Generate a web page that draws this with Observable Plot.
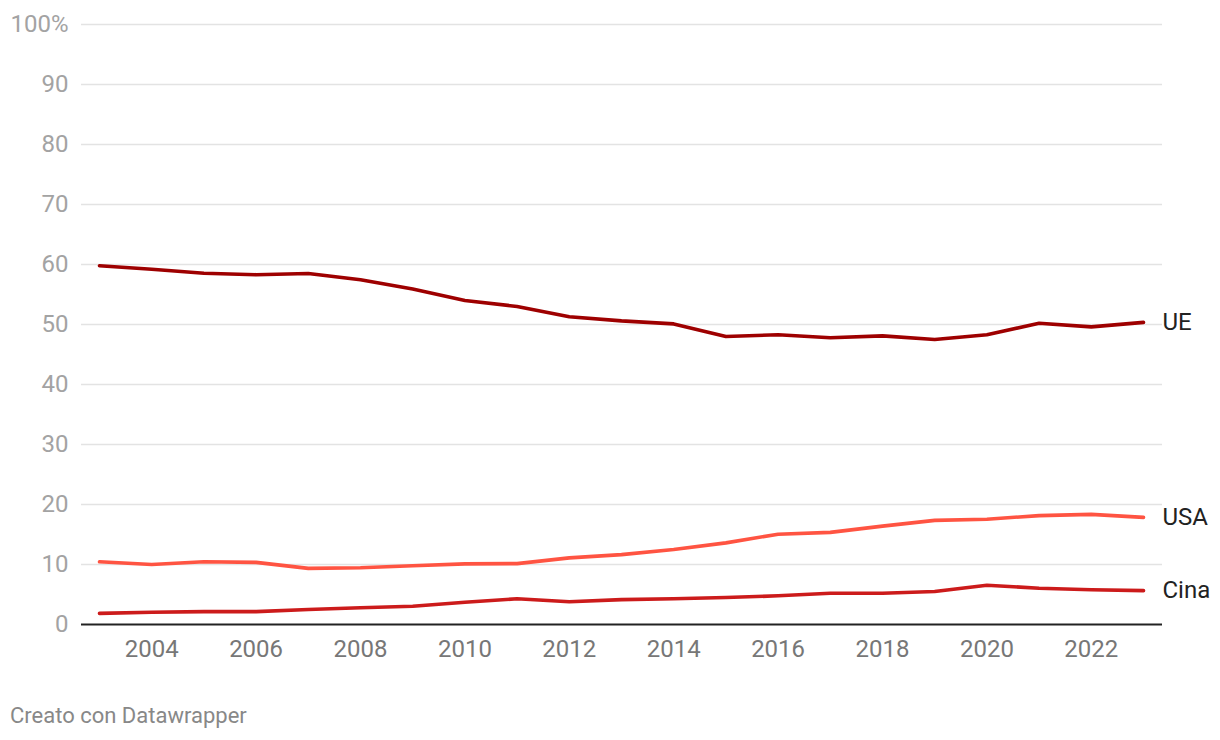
<!DOCTYPE html>
<html>
<head>
<meta charset="utf-8">
<script src="https://cdn.jsdelivr.net/npm/d3@7"></script>
<script src="https://cdn.jsdelivr.net/npm/@observablehq/plot@0.6"></script>
<style>
  html, body { margin: 0; padding: 0; background: #fff; }
  body { width: 1220px; height: 740px; font-family: Roboto, "Noto Sans", sans-serif; position: relative; }
  #chart { position: absolute; left: 0; top: 0; }
  #caption { position: absolute; left: 10px; top: 702px; font-size: 22px; line-height: 28px; color: #888; font-family: Roboto, sans-serif; }
</style>
</head>
<body>
<div id="chart"></div>
<div id="caption">Creato con Datawrapper</div>
<script>
const years = [2003,2004,2005,2006,2007,2008,2009,2010,2011,2012,2013,2014,2015,2016,2017,2018,2019,2020,2021,2022,2023];
const ue   = [59.8,59.2,58.55,58.3,58.5,57.45,55.9,54.0,53.0,51.3,50.6,50.1,48.0,48.3,47.8,48.1,47.5,48.3,50.2,49.6,50.35];
const usa  = [10.45,10.0,10.45,10.35,9.35,9.45,9.8,10.1,10.15,11.1,11.65,12.5,13.6,15.05,15.35,16.4,17.35,17.55,18.15,18.35,17.85];
const cina = [1.85,2.05,2.15,2.15,2.5,2.78,3.05,3.7,4.3,3.78,4.15,4.3,4.5,4.78,5.22,5.22,5.5,6.55,6.05,5.78,5.65];
const seriesNames = ["UE","USA","Cina"];
const seriesColors = ["#9e0000","#ff5442","#cc1b1b"];
const yTicks = [0,10,20,30,40,50,60,70,80,90,100];
const xTicks = [2004,2006,2008,2010,2012,2014,2016,2018,2020,2022];

const allValues = [ue, usa, cina];
const data = [];
seriesNames.forEach((s, i) => years.forEach((y, j) => data.push({series: s, year: y, value: allValues[i][j]})));
const last = data.filter(d => d.year === years[years.length - 1]);

const chart = Plot.plot({
  width: 1220,
  height: 680,
  marginLeft: 81,
  marginRight: 58,
  marginTop: 24,
  marginBottom: 56,
  style: {fontFamily: "Roboto, sans-serif", background: "#fff"},
  x: {domain: [2003, 2023], range: [99, 1143]},
  y: {domain: [0, 100], range: [624, 24]},
  color: {domain: seriesNames, range: seriesColors},
  marks: [
    Plot.ruleY(yTicks.filter(d => d > 0), {stroke: "#e3e3e3", strokeWidth: 1.5}),
    Plot.axisY(yTicks, {tickSize: 0, tickPadding: 13, fontSize: 24, fill: "#a3a3a3", color: "#a3a3a3",
      tickFormat: d => d === 100 ? "100%" : String(d), label: null}),
    Plot.axisX(xTicks, {tickSize: 0, tickPadding: 15, fontSize: 24, fill: "#777", color: "#777",
      tickFormat: d => String(d), label: null}),
    Plot.ruleY([0], {stroke: "#222", strokeWidth: 2}),
    Plot.line(data, {x: "year", y: "value", z: "series", stroke: "series", strokeWidth: 3.6,
      strokeLinejoin: "round", strokeLinecap: "round"}),
    Plot.text(last, {x: "year", y: "value", text: "series", dx: 19, textAnchor: "start",
      fontSize: 24, fill: "#222"})
  ]
});
document.getElementById("chart").appendChild(chart);
</script>
</body>
</html>
